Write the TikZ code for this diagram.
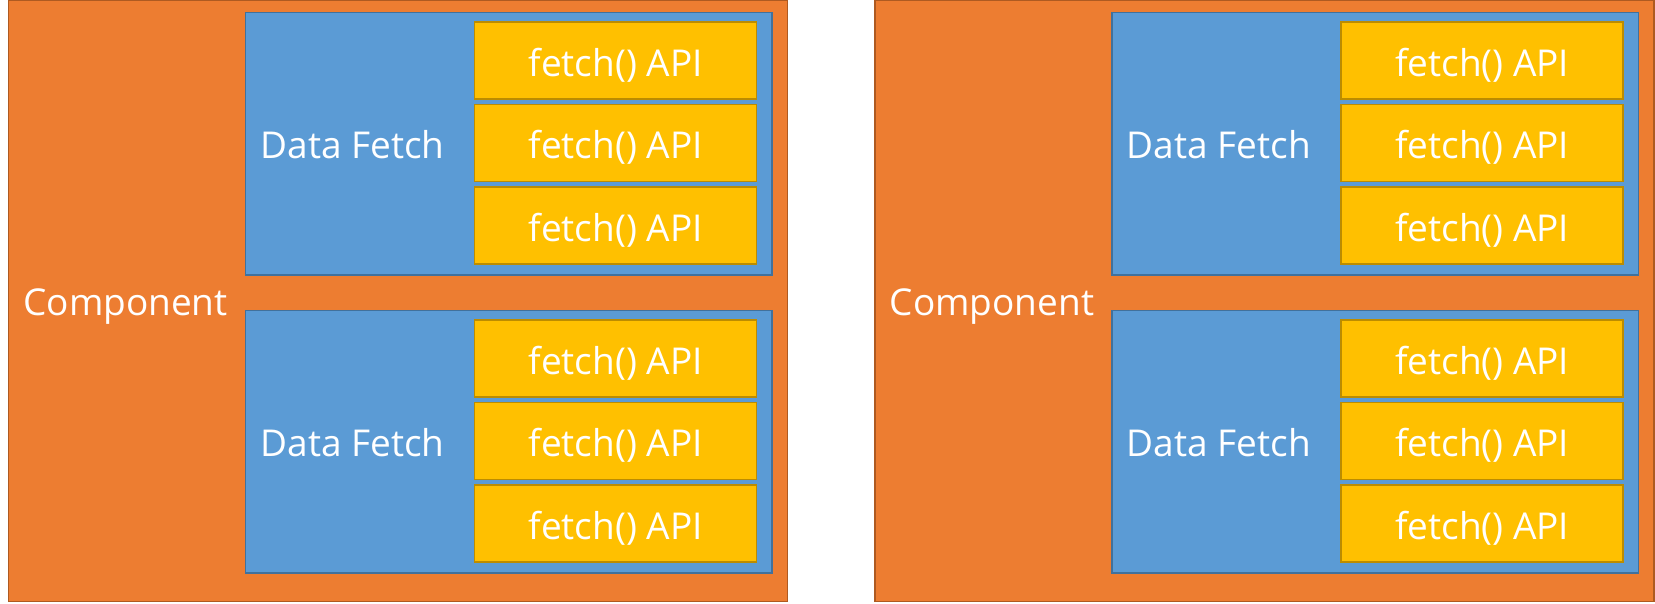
\documentclass[tikz,border=0pt]{standalone}
\usepackage{fontspec}
\setmainfont{Open Sans}
\definecolor{orfill}{HTML}{ED7D31}
\definecolor{ordraw}{HTML}{AE5A21}
\definecolor{blfill}{HTML}{5B9BD5}
\definecolor{bldraw}{HTML}{41719C}
\definecolor{yefill}{HTML}{FFC000}
\definecolor{yedraw}{HTML}{BC8C00}
\tikzset{
  box/.style={anchor=north west, inner sep=0pt, outer sep=0pt, line width=1.5pt},
  compbox/.style={box, fill=orfill, draw=ordraw},
  fetchbox/.style={box, fill=blfill, draw=bldraw},
  apibox/.style={box, fill=yefill, draw=yedraw, minimum width=282pt, minimum height=77pt},
  lbl/.style={text=white, inner sep=0pt, anchor=base, font=\fontsize{37}{44}\selectfont},
}
\begin{document}
\begin{tikzpicture}[x=1pt,y=-1pt]
\useasboundingbox (0,0) rectangle (1655,603);
\foreach \side/\dx in {L/0, R/866.5} {
  \begin{scope}[xshift=\dx pt]
    \node[compbox, minimum width=779pt, minimum height=601pt] (comp\side) at (8.5,0.5) {};
    \node[lbl] (comptext\side) at (125.5,315) {Component};
    \foreach \part/\dy in {A/0, B/298} {
      \begin{scope}[yshift=-\dy pt]
        \node[fetchbox, minimum width=526.5pt, minimum height=262.5pt] (df\side\part) at (245.7,12.7) {};
        \node[lbl] (dftext\side\part) at (352.5,158.3) {Data Fetch};
        \foreach \k/\yy in {1/22, 2/104.5, 3/187} {
          \node[apibox] (api\side\part\k) at (474.7,\yy) {};
          \node[lbl] at ([yshift=-54pt]api\side\part\k.north) (apitext\side\part\k) {fetch() API};
        }
      \end{scope}
    }
  \end{scope}
}
\end{tikzpicture}
\end{document}
